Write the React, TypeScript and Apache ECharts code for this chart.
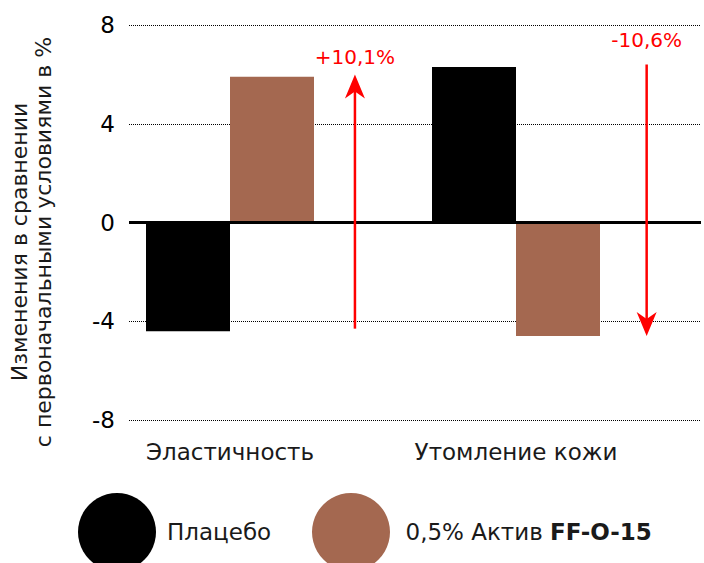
import React, { useEffect, useRef } from "react";
import * as echarts from "echarts";

const categories = ["Эластичность", "Утомление кожи"];
const seriesNames = ["Плацебо", "0,5% Актив FF-O-15"];
const placebo = [-4.4, 6.3];
const active = [5.9, -4.6];
const arrowFrom = [-4.3, 6.4];
const arrowTo = [6.0, -4.6];
const arrowLabels = ["+10,1%", "-10,6%"];
const yTitle = ["Изменения в сравнении", "с первоначальными условиями в %"];

const FONT = "'DejaVu Sans', sans-serif";
const BROWN = "#a46850";
const RED = "#ff0000";
const TXT = "#1a1a1a";

export default function App() {
  const ref = useRef<HTMLDivElement>(null);
  useEffect(() => {
    document.body.style.margin = "0";
    if (!ref.current) return;
    const chart = echarts.init(ref.current, null, { renderer: "svg" });
    const arrowOffsets = [0.29, 0.31];
    const labelGaps = [7, 15];
    const arrowData = categories.map((_, i) => [i, arrowFrom[i], arrowTo[i]]);
    chart.setOption({
      animation: false,
      textStyle: { fontFamily: FONT },
      grid: { left: 129, right: 3, top: 25, bottom: 143 },
      legend: [
        {
          data: [seriesNames[0]],
          left: 73,
          top: 488,
          icon: "circle",
          itemWidth: 90,
          itemHeight: 78,
          selectedMode: false,
          textStyle: { fontSize: 23, color: TXT, fontFamily: FONT },
        },
        {
          data: [seriesNames[1]],
          left: 307,
          top: 488,
          icon: "circle",
          itemWidth: 99,
          itemHeight: 78,
          selectedMode: false,
          formatter: () => "{n|0,5% Актив }{b|FF-O-15}",
          textStyle: {
            fontSize: 23,
            color: TXT,
            fontFamily: FONT,
            rich: {
              n: { fontSize: 23, color: TXT, fontFamily: FONT },
              b: { fontSize: 23, color: TXT, fontFamily: FONT, fontWeight: "bold" },
            },
          },
        },
      ],
      xAxis: {
        type: "category",
        data: categories,
        axisLine: { show: false, onZero: false },
        axisTick: { show: false },
        axisLabel: {
          fontSize: 23,
          color: TXT,
          margin: 20,
          padding: [0, 84, 0, 0],
          fontFamily: FONT,
        },
      },
      yAxis: {
        type: "value",
        min: -8,
        max: 8,
        interval: 4,
        axisLine: { show: false },
        axisTick: { show: false },
        axisLabel: { fontSize: 23, color: "#000", margin: 14, fontFamily: FONT },
        splitLine: { lineStyle: { type: "dotted", color: "#000", width: 1 } },
      },
      graphic: [
        {
          type: "text",
          x: 31,
          y: 242,
          rotation: Math.PI / 2,
          style: {
            text: yTitle.join("\n"),
            fontSize: 22,
            lineHeight: 24,
            fill: TXT,
            fontFamily: FONT,
            textAlign: "center",
            textVerticalAlign: "middle",
          },
        },
      ],
      series: [
        {
          name: seriesNames[0],
          type: "bar",
          data: placebo,
          barWidth: 84,
          barGap: "0%",
          itemStyle: { color: "#000" },
          markLine: {
            silent: true,
            symbol: "none",
            label: { show: false },
            lineStyle: { color: "#000", type: "solid", width: 3 },
            data: [{ yAxis: 0 }],
          },
        },
        {
          name: seriesNames[1],
          type: "bar",
          data: active,
          barWidth: 84,
          barGap: "0%",
          itemStyle: { color: BROWN },
        },
        {
          name: "spacer",
          type: "bar",
          data: [null, null],
          barWidth: 84,
          barGap: "0%",
        },
        {
          type: "custom",
          data: arrowData,
          encode: { x: 0, y: [1, 2] },
          clip: false,
          z: 10,
          renderItem: (params: any, api: any) => {
            const i = params.dataIndex;
            const band = api.size([1, 0])[0];
            const c0 = api.coord([i, api.value(1)]);
            const c1 = api.coord([i, api.value(2)]);
            const x = c0[0] + band * arrowOffsets[i];
            const y0 = c0[1];
            const y1 = c1[1];
            const dir = y1 < y0 ? -1 : 1;
            const headLen = 24;
            const headW = 10;
            const top = Math.min(y0, y1);
            return {
              type: "group",
              children: [
                {
                  type: "line",
                  shape: { x1: x, y1: y0, x2: x, y2: y1 - dir * 12 },
                  style: { stroke: RED, lineWidth: 2.5 },
                },
                {
                  type: "polygon",
                  shape: {
                    points: [
                      [x, y1],
                      [x - headW, y1 - dir * headLen],
                      [x, y1 - dir * (headLen - 7)],
                      [x + headW, y1 - dir * headLen],
                    ],
                  },
                  style: { fill: RED },
                },
                {
                  type: "text",
                  x: x,
                  y: top - labelGaps[i],
                  style: {
                    text: arrowLabels[i],
                    fill: RED,
                    fontSize: 20,
                    fontFamily: FONT,
                    textAlign: "center",
                    textVerticalAlign: "bottom",
                  },
                },
              ],
            };
          },
        },
      ],
    });
    return () => chart.dispose();
  }, []);
  return <div ref={ref} style={{ width: 704, height: 563 }} />;
}
